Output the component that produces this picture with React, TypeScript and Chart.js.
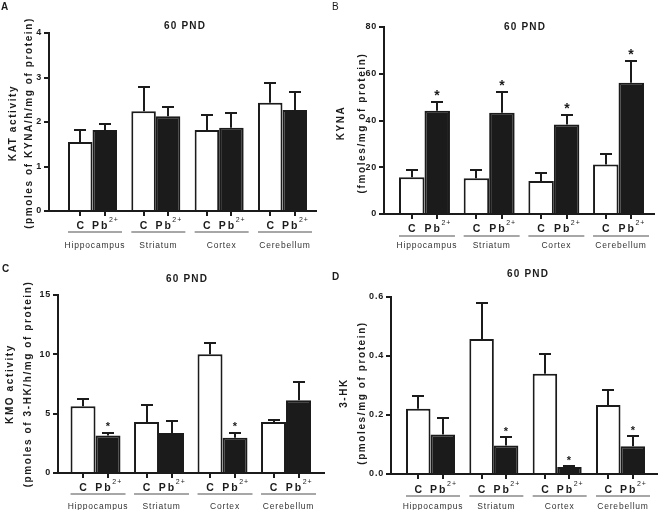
import React, { useEffect, useRef } from 'react';
import { Chart, registerables } from 'chart.js';

Chart.register(...registerables);

// ---------- data ----------
const regions = ['Hippocampus', 'Striatum', 'Cortex', 'Cerebellum'];
const controlLabel = 'C';
const leadLabel = 'Pb';
const leadSup = '2+';
const panelTitle = '60 PND';

// A: KAT activity
const katControl = [1.55, 2.24, 1.82, 2.43];
const katControlSem = [0.28, 0.54, 0.33, 0.45];
const katLead = [1.82, 2.13, 1.87, 2.27];
const katLeadSem = [0.13, 0.2, 0.34, 0.41];
const katStars = [false, false, false, false];
const katTicks = [0, 1, 2, 3, 4];

// B: KYNA
const kynaControl = [15.7, 15.3, 14.1, 21.2];
const kynaControlSem = [3.3, 3.5, 3.6, 4.4];
const kynaLead = [44.2, 43.3, 38.3, 56.1];
const kynaLeadSem = [3.8, 8.9, 4.1, 9.2];
const kynaStars = [true, true, true, true];
const kynaTicks = [0, 20, 40, 60, 80];

// C: KMO activity
const kmoControl = [5.63, 4.3, 10.0, 4.3];
const kmoControlSem = [0.57, 1.47, 0.93, 0.2];
const kmoLead = [3.15, 3.38, 2.98, 6.14];
const kmoLeadSem = [0.23, 1.04, 0.4, 1.55];
const kmoStars = [true, false, true, false];
const kmoTicks = [0, 5, 10, 15];

// D: 3-HK
const hkControl = [0.221, 0.458, 0.34, 0.234];
const hkControlSem = [0.045, 0.122, 0.068, 0.051];
const hkLead = [0.134, 0.097, 0.024, 0.094];
const hkLeadSem = [0.056, 0.027, 0.004, 0.034];
const hkStars = [false, true, true, true];
const hkTicks = [0, 0.2, 0.4, 0.6];

// ---------- layout / style ----------
const INK = '#1b1b1b';
const FONT = '"Liberation Sans", Arial, sans-serif';

const PANELS = [
  {
    letter: 'A', letterBold: true, letterX: 1, letterY: 10,
    left: 0, top: 0, w: 330, h: 255,
    axisX: 49, topY: 33, bottomY: 211, rightX: 317,
    xMin: -0.687, xMax: 3.545, cat: 0.774,
    titleX: 185, titleY: 29,
    yLines: ['KAT activity', '(pmoles of KYNA/h/mg of protein)'], yLabX: [13, 29], yLabY: 123,
    labelBase: 228.5, lineY: 232, nameBase: 248, starSize: 12, starGap: 10,
    yTicks: katTicks, decimals: 0,
    control: katControl, controlSem: katControlSem, lead: katLead, leadSem: katLeadSem, stars: katStars,
  },
  {
    letter: 'B', letterBold: false, letterX: 332, letterY: 10,
    left: 330, top: 0, w: 329, h: 255,
    axisX: 384, topY: 27, bottomY: 214, rightX: 655,
    xMin: -0.626, xMax: 3.564, cat: 0.788,
    titleX: 525, titleY: 30,
    yLines: ['KYNA', '(fmoles/mg of protein)'], yLabX: [341, 362], yLabY: 123,
    labelBase: 232, lineY: 236, nameBase: 248, starSize: 14, starGap: 10,
    yTicks: kynaTicks, decimals: 0,
    control: kynaControl, controlSem: kynaControlSem, lead: kynaLead, leadSem: kynaLeadSem, stars: kynaStars,
  },
  {
    letter: 'C', letterBold: true, letterX: 2, letterY: 272,
    left: 0, top: 255, w: 330, h: 255,
    axisX: 58, topY: 295, bottomY: 473, rightX: 325,
    xMin: -0.591, xMax: 3.614, cat: 0.787,
    titleX: 187, titleY: 282,
    yLines: ['KMO activity', '(pmoles of 3-HK/h/mg of protein)'], yLabX: [10, 28], yLabY: 384,
    labelBase: 490.5, lineY: 494, nameBase: 508.5, starSize: 11, starGap: 9,
    yTicks: kmoTicks, decimals: 0,
    control: kmoControl, controlSem: kmoControlSem, lead: kmoLead, leadSem: kmoLeadSem, stars: kmoStars,
  },
  {
    letter: 'D', letterBold: true, letterX: 332, letterY: 280,
    left: 330, top: 255, w: 329, h: 255,
    axisX: 391, topY: 297, bottomY: 474, rightX: 658,
    xMin: -0.624, xMax: 3.592, cat: 0.774,
    titleX: 528, titleY: 277,
    yLines: ['3-HK', '(pmoles/mg of protein)'], yLabX: [344, 362], yLabY: 393,
    labelBase: 492.5, lineY: 496, nameBase: 509, starSize: 11, starGap: 8,
    yTicks: hkTicks, decimals: 1,
    control: hkControl, controlSem: hkControlSem, lead: hkLead, leadSem: hkLeadSem, stars: hkStars,
  },
];

function makePlugin(p: any) {
  return {
    id: 'panelDeco' + p.letter,
    beforeDraw(chart: any) {
      chart.ctx.letterSpacing = '0.8px';
    },
    afterDatasetsDraw(chart: any) {
      const ctx = chart.ctx;
      const ys = chart.scales.y;
      const sets = [
        [p.control, p.controlSem, null],
        [p.lead, p.leadSem, p.stars],
      ];
      sets.forEach(([vals, sems, stars]: any, d: number) => {
        const meta = chart.getDatasetMeta(d);
        meta.data.forEach((el: any, i: number) => {
          const x = Math.round(el.x);
          const yb = ys.getPixelForValue(vals[i]);
          const yt = Math.round(ys.getPixelForValue(vals[i] + sems[i]));
          ctx.save();
          ctx.strokeStyle = INK;
          ctx.lineWidth = 2;
          ctx.beginPath();
          ctx.moveTo(x, yb);
          ctx.lineTo(x, yt);
          ctx.moveTo(x - 6, yt);
          ctx.lineTo(x + 6, yt);
          ctx.stroke();
          if (stars && stars[i]) {
            ctx.fillStyle = INK;
            ctx.font = `bold ${p.starSize}px ${FONT}`;
            ctx.letterSpacing = '0px';
            ctx.textAlign = 'center';
            ctx.textBaseline = 'alphabetic';
            ctx.fillText('*', x, yt - p.starGap + 0.57 * p.starSize);
          }
          ctx.restore();
        });
      });
    },
    afterDraw(chart: any) {
      const ctx = chart.ctx;
      const ox = p.left;
      const oy = p.top;
      const bottom = chart.chartArea.bottom;
      ctx.save();
      ctx.fillStyle = INK;
      ctx.textBaseline = 'alphabetic';

      // panel letter
      ctx.font = `${p.letterBold ? 'bold ' : ''}10px ${FONT}`;
      ctx.letterSpacing = '0px';
      ctx.textAlign = 'left';
      ctx.fillText(p.letter, p.letterX - ox, p.letterY - oy);

      // title
      ctx.font = `bold 10px ${FONT}`;
      ctx.letterSpacing = '1.2px';
      ctx.textAlign = 'center';
      ctx.fillText(panelTitle, p.titleX - ox, p.titleY - oy);

      // y-axis title (two lines, rotated)
      ctx.font = `bold 10px ${FONT}`;
      ctx.letterSpacing = '1.6px';
      p.yLines.forEach((line: string, k: number) => {
        ctx.save();
        ctx.translate(p.yLabX[k] - ox, p.yLabY - oy);
        ctx.rotate(-Math.PI / 2);
        ctx.textAlign = 'center';
        ctx.textBaseline = 'middle';
        ctx.fillText(line, 0, 0);
        ctx.restore();
      });

      // x category labels
      const m0 = chart.getDatasetMeta(0);
      const m1 = chart.getDatasetMeta(1);
      regions.forEach((name, i) => {
        const c = m0.data[i];
        const l = m1.data[i];
        const cx = c.x;
        const lx = l.x;

        // tick marks at bar centres
        ctx.strokeStyle = INK;
        ctx.lineWidth = 2;
        ctx.beginPath();
        ctx.moveTo(Math.round(cx), bottom);
        ctx.lineTo(Math.round(cx), bottom + 5);
        ctx.moveTo(Math.round(lx), bottom);
        ctx.lineTo(Math.round(lx), bottom + 5);
        ctx.stroke();

        ctx.fillStyle = INK;
        ctx.font = `bold 10.5px ${FONT}`;
        ctx.letterSpacing = '0px';
        ctx.textAlign = 'center';
        ctx.fillText(controlLabel, cx, p.labelBase - oy);

        ctx.textAlign = 'left';
        ctx.font = `bold 10.5px ${FONT}`;
        ctx.letterSpacing = '2px';
        const wPb = ctx.measureText(leadLabel).width;
        ctx.font = `7px ${FONT}`;
        ctx.letterSpacing = '1px';
        const wSup = ctx.measureText(leadSup).width;
        const start = lx - (wPb + wSup) / 2 + 1;
        ctx.font = `bold 10.5px ${FONT}`;
        ctx.letterSpacing = '2px';
        ctx.fillText(leadLabel, start, p.labelBase - oy);
        ctx.font = `7px ${FONT}`;
        ctx.letterSpacing = '1px';
        ctx.fillText(leadSup, start + wPb - 0.5, p.labelBase - 7 - oy);

        const x0 = cx - c.width / 2;
        const x1 = lx + l.width / 2 + 5;
        ctx.strokeStyle = '#8a8a8a';
        ctx.lineWidth = 1.5;
        ctx.beginPath();
        ctx.moveTo(x0, p.lineY - oy);
        ctx.lineTo(x1, p.lineY - oy);
        ctx.stroke();

        ctx.fillStyle = '#333333';
        ctx.font = `8.5px ${FONT}`;
        ctx.letterSpacing = '0.8px';
        ctx.textAlign = 'center';
        ctx.fillText(name, (x0 + x1) / 2, p.nameBase - oy);
      });
      ctx.restore();
    },
  };
}

function buildConfig(p: any): any {
  const yMax = p.yTicks[p.yTicks.length - 1];
  return {
    type: 'bar',
    data: {
      datasets: [
        {
          label: controlLabel,
          data: regions.map((_, i) => ({ x: i, y: p.control[i] })),
          backgroundColor: '#ffffff',
          borderColor: INK,
          borderWidth: 2,
          barPercentage: 1,
          categoryPercentage: p.cat,
        },
        {
          label: leadLabel + leadSup,
          data: regions.map((_, i) => ({ x: i, y: p.lead[i] })),
          backgroundColor: INK,
          borderColor: INK,
          borderWidth: 2,
          barPercentage: 1,
          categoryPercentage: p.cat,
        },
      ],
    },
    options: {
      responsive: false,
      animation: false,
      events: [],
      layout: {
        padding: { top: p.topY - p.top, right: p.left + p.w - p.rightX, left: 0, bottom: 0 },
      },
      plugins: {
        legend: { display: false },
        tooltip: { enabled: false },
        title: { display: false },
      },
      scales: {
        x: {
          type: 'linear',
          min: p.xMin,
          max: p.xMax,
          offset: false,
          z: 1,
          afterBuildTicks: (s: any) => {
            s.ticks = regions.map((_, i) => ({ value: i }));
          },
          afterFit: (s: any) => {
            s.height = p.top + p.h - p.bottomY;
          },
          ticks: { display: false },
          grid: {
            display: true,
            offset: false,
            drawOnChartArea: false,
            drawTicks: false,
            lineWidth: 0,
            color: 'rgba(0,0,0,0)',
          },
          border: { display: true, color: INK, width: 2 },
        },
        y: {
          type: 'linear',
          min: 0,
          max: yMax,
          afterBuildTicks: (s: any) => {
            s.ticks = p.yTicks.map((v: number) => ({ value: v }));
          },
          afterFit: (s: any) => {
            s.width = p.axisX - p.left;
          },
          ticks: {
            font: { family: FONT, size: 9, weight: 'bold' },
            color: INK,
            padding: 2,
            callback: (v: any) => Number(v).toFixed(p.decimals),
          },
          grid: {
            drawOnChartArea: false,
            drawTicks: true,
            tickLength: 5,
            lineWidth: 2,
            color: INK,
          },
          border: { display: true, color: INK, width: 2 },
        },
      },
    },
    plugins: [makePlugin(p)],
  };
}

function Panel({ p }: { p: any }) {
  const ref = useRef<HTMLCanvasElement>(null);
  useEffect(() => {
    if (!ref.current) return;
    const chart = new Chart(ref.current, buildConfig(p));
    return () => chart.destroy();
  }, [p]);
  return (
    <canvas
      ref={ref}
      width={p.w}
      height={p.h}
      style={{ position: 'absolute', left: p.left, top: p.top, width: p.w, height: p.h }}
    />
  );
}

export default function App() {
  return (
    <div
      style={{
        position: 'absolute',
        left: 0,
        top: 0,
        width: 659,
        height: 510,
        background: '#ffffff',
        overflow: 'hidden',
      }}
    >
      {PANELS.map((p) => (
        <Panel key={p.letter} p={p} />
      ))}
    </div>
  );
}
